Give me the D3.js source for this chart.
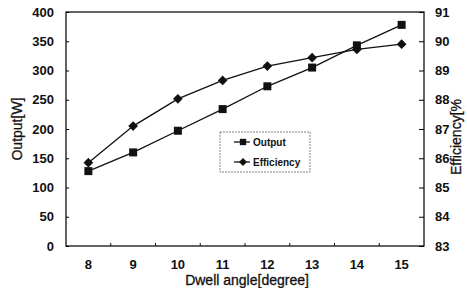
<!DOCTYPE html>
<html>
<head>
<meta charset="utf-8">
<script src="https://cdn.jsdelivr.net/npm/d3@7"></script>
<style>
  body { margin: 0; background: #fff; }
  svg text { font-family: "Liberation Sans", Arial, sans-serif; fill: #111; }
</style>
</head>
<body>
<svg id="chart" width="467" height="288"></svg>
<script>
var angles = [8, 9, 10, 11, 12, 13, 14, 15];
var output = [128, 160, 197, 234, 273, 305, 343, 378];
var efficiency = [85.85, 87.1, 88.03, 88.66, 89.15, 89.44, 89.72, 89.9];
var outputTicks = [0, 50, 100, 150, 200, 250, 300, 350, 400];
var effTicks = [83, 84, 85, 86, 87, 88, 89, 90, 91];

var margin = { left: 66, right: 43, top: 12, bottom: 42 };
var width = 467 - margin.left - margin.right;
var height = 288 - margin.top - margin.bottom;

var svg = d3.select("#chart");
var g = svg.append("g").attr("transform", "translate(" + margin.left + "," + margin.top + ")");

var x = d3.scaleBand().domain(angles).range([0, width]);
var yL = d3.scaleLinear().domain([0, 400]).range([height, 0]);
var yR = d3.scaleLinear().domain([83, 91]).range([height, 0]);

// frame
g.append("rect").attr("width", width).attr("height", height)
  .attr("fill", "none").attr("stroke", "#111").attr("stroke-width", 1.3);

// left axis
var left = g.append("g").call(d3.axisLeft(yL).tickValues(outputTicks).tickSize(-3).tickPadding(12));
left.select(".domain").remove();
left.selectAll("text").attr("font-size", 13).attr("font-weight", "bold");

// right axis
var right = g.append("g").attr("transform", "translate(" + width + ",0)")
  .call(d3.axisRight(yR).tickValues(effTicks).tickSize(-5).tickPadding(11));
right.select(".domain").remove();
right.selectAll("text").attr("font-size", 13).attr("font-weight", "bold");

// bottom axis: labels at band centres, ticks at band edges
var bottom = g.append("g").attr("transform", "translate(0," + height + ")")
  .call(d3.axisBottom(x).tickSize(0).tickPadding(14));
bottom.select(".domain").remove();
bottom.selectAll("text").attr("font-size", 13).attr("font-weight", "bold");
g.append("g").selectAll("line").data(angles.slice(1)).join("line")
  .attr("x1", function (d) { return x(d); }).attr("x2", function (d) { return x(d); })
  .attr("y1", height).attr("y2", height - 3)
  .attr("stroke", "#111");

// axis titles
svg.append("text").attr("transform", "translate(22," + 129 + ") rotate(-90)")
  .attr("text-anchor", "middle").attr("font-size", 14).attr("stroke", "#111").attr("stroke-width", 0.3)
  .text("Output[W]");
svg.append("text").attr("transform", "translate(461," + 137 + ") rotate(-90)")
  .attr("text-anchor", "middle").attr("font-size", 14).attr("stroke", "#111").attr("stroke-width", 0.3)
  .text("Efficiency[%");
svg.append("text").attr("x", margin.left + width / 2 + 2).attr("y", 285)
  .attr("text-anchor", "middle").attr("font-size", 14).attr("stroke", "#111").attr("stroke-width", 0.3)
  .text("Dwell angle[degree]");

var cx = function (d, i) { return x(angles[i]) + x.bandwidth() / 2; };

// output line
g.append("path").datum(output)
  .attr("fill", "none").attr("stroke", "#111").attr("stroke-width", 1.3)
  .attr("d", d3.line().x(cx).y(function (d) { return yL(d); }));
g.append("g").selectAll("path").data(output).join("path")
  .attr("d", d3.symbol(d3.symbolSquare, 64))
  .attr("transform", function (d, i) { return "translate(" + cx(d, i) + "," + yL(d) + ")"; })
  .attr("fill", "#111");

// efficiency line
g.append("path").datum(efficiency)
  .attr("fill", "none").attr("stroke", "#111").attr("stroke-width", 1.3)
  .attr("d", d3.line().x(cx).y(function (d) { return yR(d); }));
g.append("g").selectAll("path").data(efficiency).join("path")
  .attr("d", d3.symbol(d3.symbolDiamond2, 60))
  .attr("transform", function (d, i) { return "translate(" + cx(d, i) + "," + yR(d) + ")"; })
  .attr("fill", "#111");

// legend
var lg = svg.append("g").attr("transform", "translate(220,132)");
lg.append("rect").attr("width", 90).attr("height", 40)
  .attr("fill", "#fff").attr("stroke", "#666").attr("stroke-width", 0.8).attr("stroke-dasharray", "2,1");
var items = [{ name: "Output", sym: d3.symbolSquare, size: 40 }, { name: "Efficiency", sym: d3.symbolDiamond2, size: 40 }];
var row = lg.selectAll("g.item").data(items).join("g")
  .attr("transform", function (d, i) { return "translate(0," + (10 + i * 20) + ")"; });
row.append("line").attr("x1", 14).attr("x2", 30).attr("stroke", "#111").attr("stroke-width", 1.3);
row.append("path").attr("d", function (d) { return d3.symbol(d.sym, d.size)(); })
  .attr("transform", "translate(23,0)").attr("fill", "#111");
row.append("text").attr("x", 33).attr("y", 4).attr("font-size", 10).attr("font-weight", "bold")
  .text(function (d) { return d.name; });
</script>
</body>
</html>
